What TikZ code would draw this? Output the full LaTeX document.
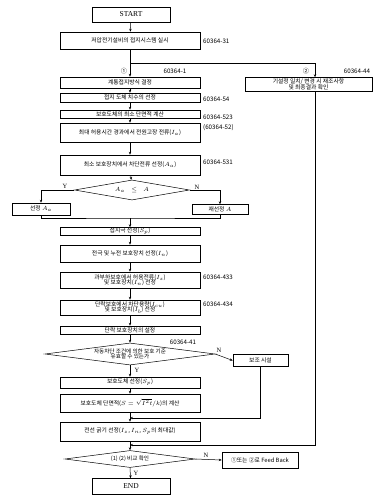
\documentclass[tikz,border=0pt]{standalone}
\usepackage{fontspec}
\setmainfont{Noto Sans CJK KR}
\newfontfamily\latserif{Liberation Serif}
\usetikzlibrary{arrows.meta,shapes.geometric}
\tikzset{
  ln/.style={line width=0.5pt},
  arr/.style={ln,-{Stealth[length=3pt,width=2.4pt]}},
  box/.style={draw,ln,minimum width=140pt,inner sep=0pt,align=center,font=\fontsize{5.8}{6.6}\selectfont},
  sbox/.style={draw,ln,inner sep=0pt,align=center,font=\fontsize{5.8}{6.6}\selectfont},
  term/.style={draw,ln,minimum width=78pt,inner sep=0pt,font=\latserif\fontsize{7.5}{8}\selectfont},
  dia/.style={draw,ln,diamond,inner sep=0pt},
  dtxt/.style={inner sep=0pt,align=center,font=\fontsize{5.6}{6.2}\selectfont},
  lbl/.style={inner sep=0pt,font=\fontsize{6.2}{7}\selectfont},
  yn/.style={inner sep=0pt,font=\latserif\fontsize{6.5}{7}\selectfont}
}
\begin{document}
\begin{tikzpicture}[x=1pt,y=-1pt]
\useasboundingbox (0,0) rectangle (384,495);
% main column
\node[term,minimum height=15pt] (start) at (131,14.5) {START};
\node[box,minimum height=17pt] (b2) at (130,40.5) {저압전기설비의 접지시스템 실시};
\coordinate (br) at (130,63);
\node[box,minimum height=11pt] (b3) at (130,82.5) {계통접지방식 결정};
\node[sbox,minimum width=127pt,minimum height=14pt] (r1) at (308.5,84.5) {기설정 일치/ 변경 시 재조사항\\[-1pt]및 최종결과 확인};
\node[box,minimum height=9pt] (b4) at (130,97.5) {접지 도체 치수의 선정};
\node[box,minimum height=8pt] (b5) at (130,114) {보호도체의 최소 단면적 계산};
\node[box,minimum height=19pt] (b6) at (130,132.5) {최대 허용시간 경과에서 전원고장 전류($I_a$)};
\node[box,minimum height=20pt] (b7) at (130,165) {최소 보호장치에서 차단전류 선정($A_a$)};
\node[dia,minimum width=115pt,minimum height=20pt] (d8) at (132,190) {};
\node[dtxt] at (d8) {$A_a \;\;\le\;\; A$};
\node[sbox,minimum width=58pt,minimum height=12pt] (lb) at (41,209) {선정 $A_a$};
\node[sbox,minimum width=56pt,minimum height=10pt] (rb) at (220,209.5) {재선정 $A$};
\coordinate (m1) at (130,218);
\node[box,minimum height=8pt] (b9) at (130,231.5) {접지극 선정($S_p$)};
\node[box,minimum height=17pt] (b10) at (130,253.5) {전극 및 누전 보호장치 선정($I_n$)};
\node[box,minimum height=16pt] (b11) at (130,280) {과부하보호에서 허용전류($I_z$)\\[-1pt]및 보호장치($I_n$) 선정};
\node[box,minimum height=15pt] (b12) at (130,307.5) {단락보호에서 차단용량($I_{cu}$)\\[-1pt]및 보호장치($I_b$) 선정};
\node[box,minimum height=8pt] (b13) at (130,330) {단락 보호장치의 설정};
\node[dia,minimum width=170pt,minimum height=22pt] (d14) at (130,354) {};
\node[dtxt] at (d14) {자동차단 조건에 의한 보호 기준\\[-1.5pt]유효할 수 있는가};
\node[sbox,minimum width=55pt,minimum height=12pt] (sb) at (260.5,360.5) {보조 시설};
\node[box,minimum height=11pt] (b15) at (130,382.5) {보호도체 선정($S_p$)};
\node[box,minimum height=18pt] (b16) at (130,403) {보호도체 단면적($S=\sqrt{I^2t}/k$)의 계산};
\coordinate (m3) at (130,418);
\node[box,minimum height=19pt] (b17) at (130,431.5) {전선 굵기 선정($I_z$, $I_n$, $S_p$의 최대값)};
\coordinate (m2) at (130,445);
\coordinate (rv) at (315,445);
\node[dia,minimum width=130pt,minimum height=17pt] (d18) at (130,459) {};
\node[dtxt] at (d18) {(1) (2) 비교 확인};
\node[sbox,minimum width=76pt,minimum height=16pt] (fb) at (260,460) {①또는 ②로 Feed Back};
\node[term,minimum height=16pt] (end) at (131,486.5) {END};
% labels
\node[lbl,anchor=west] at (203,41) {60364-31};
\node[lbl] at (124,71) {①};
\node[lbl] at (175,71) {60364-1};
\node[lbl] at (306,71) {②};
\node[lbl] at (357,71) {60364-44};
\node[lbl,anchor=west] at (203,99) {60364-54};
\node[lbl,anchor=west] at (203,117) {60364-523};
\node[lbl,anchor=west] at (203,128) {(60364-52)};
\node[lbl,anchor=west] at (203,162) {60364-531};
\node[lbl,anchor=west] at (203,277) {60364-433};
\node[lbl,anchor=west] at (203,304) {60364-434};
\node[lbl] at (183,342) {60364-41};
\node[yn] at (65,186) {Y};
\node[yn] at (197,187) {N};
\node[yn] at (219,350) {N};
\node[yn] at (137,370) {Y};
\node[yn] at (206,455) {N};
\node[yn] at (136,473) {Y};
% connectors
\draw[arr] (start) -- (b2);
\draw[arr] (b2) -- (b3);
\draw[arr] (br) -- (br -| rv) -- (r1.north -| rv);
\draw[arr] (b3) -- (b4);
\draw[arr] (b4) -- (b5);
\draw[arr] (b5) -- (b6);
\draw[arr] (b6) -- (b7);
\draw[arr] (b7) -- (d8);
\draw[arr] (d8.west) -| (lb.north);
\draw[arr] (d8.east) -| (rb.north);
\draw[ln] (lb.south) |- (m1) -| (rb.south);
\draw[arr] (m1) -- (b9);
\draw[arr] (b9) -- (b10);
\draw[arr] (b10) -- (b11);
\draw[arr] (b11) -- (b12);
\draw[arr] (b12) -- (b13);
\draw[arr] (b13) -- (d14);
\draw[arr] (d14.east) -- (sb.west);
\draw[arr] (d14.south) -- (b15);
\draw[arr] (b15) -- (b16);
\draw[arr] (sb.south) |- (m3);
\draw[arr] (b16) -- (b17);
\draw[arr] (r1.south -| rv) -- (rv) -- (m2);
\draw[arr] (b17) -- (d18.north);
\draw[arr] (d18.east) -- (fb.west);
\draw[arr] (d18.south) -- (end);
\end{tikzpicture}
\end{document}
